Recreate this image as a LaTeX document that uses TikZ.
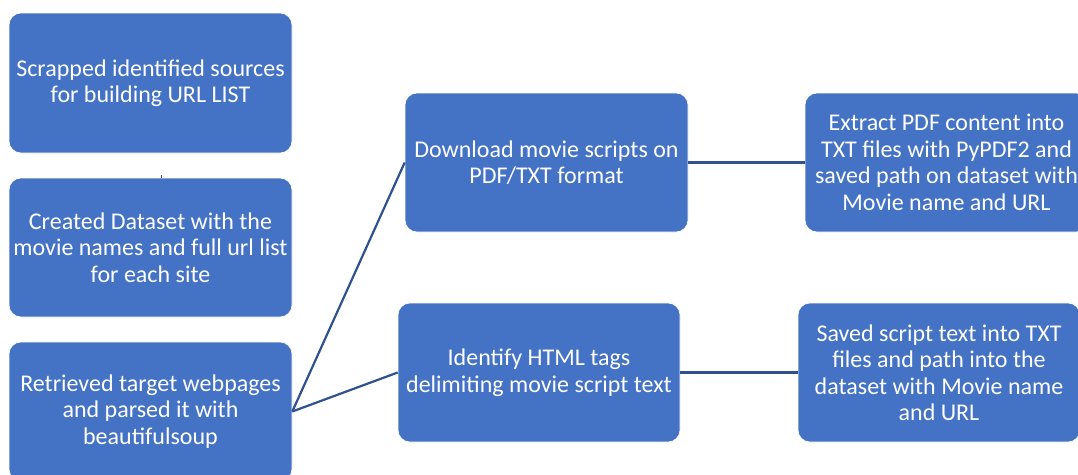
\documentclass[tikz,border=0pt]{standalone}
\usepackage{fontspec}
\setmainfont{Carlito}
\definecolor{boxblue}{HTML}{4472C4}
\definecolor{linkblue}{HTML}{2F528F}
\begin{document}
\begin{tikzpicture}[x=1pt,y=-1pt,
  stepbox/.style={fill=boxblue, draw=white, line width=0.6pt, rounded corners=12pt,
    text=white, align=center, inner sep=0pt, font=\fontsize{24}{26.5}\selectfont},
  link/.style={draw=linkblue, line width=2.2pt}]
\useasboundingbox (0,0) rectangle (1078,474);
\clip (0,0) rectangle (1078,474);

% left column
\node[stepbox, minimum width=283pt, minimum height=140pt] (src) at (150.5,83)
  {Scrapped identified sources\\for building URL LIST};
\node[stepbox, minimum width=283pt, minimum height=139pt] (data) at (150.5,247.5)
  {Created Dataset with the\\movie names and full url list\\for each site};
\node[stepbox, minimum width=283pt, minimum height=139pt] (web) at (150.5,411.5)
  {Retrieved target webpages\\and parsed it with\\beautifulsoup};

% middle column
\node[stepbox, minimum width=283pt, minimum height=139pt] (dl) at (546.5,162.5)
  {Download movie scripts on\\PDF/TXT format};
\node[stepbox, minimum width=282pt, minimum height=139pt] (html) at (539,372.5)
  {Identify HTML tags\\delimiting movie script text};

% right column
\node[stepbox, minimum width=283pt, minimum height=139pt] (pdf) at (946.5,162.5)
  {Extract PDF content into\\TXT files with PyPDF2 and\\saved path on dataset with\\Movie name and URL};
\node[stepbox, minimum width=282pt, minimum height=139pt] (txt) at (939,372.5)
  {Saved script text into TXT\\files and path into the\\dataset with Movie name\\and URL};

% connectors
\coordinate (stub) at (161,174.5);
\draw[draw=linkblue, line width=0.8pt] (stub) -- (stub |- data.north);
\draw[link] (web.east) -- (dl.west);
\draw[link] (web.east) -- (html.west);
\draw[link] (dl.east) -- (pdf.west);
\draw[link] (html.east) -- (txt.west);
\end{tikzpicture}
\end{document}
